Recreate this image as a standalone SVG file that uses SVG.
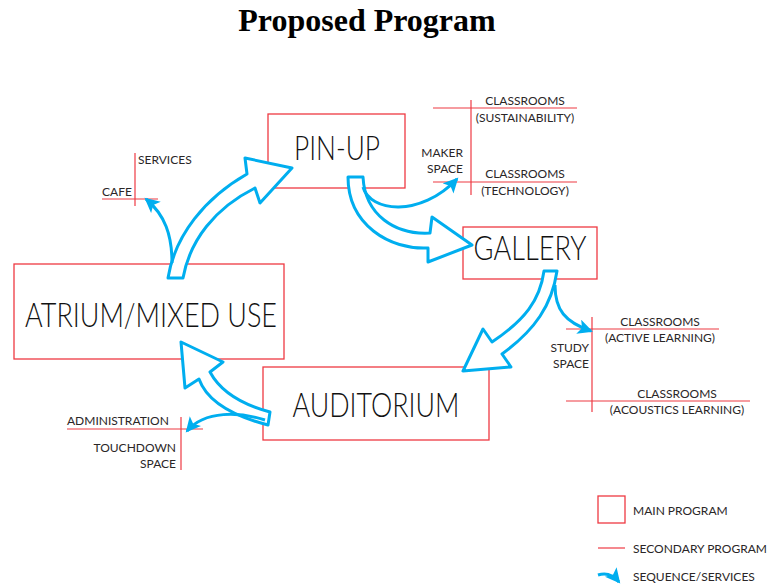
<svg xmlns="http://www.w3.org/2000/svg" width="769" height="586" viewBox="0 0 769 586">
  <style>
    .box { fill: none; stroke: #EE3A43; stroke-width: 1.3; }
    .sec { stroke: #EE3A43; stroke-width: 1.2; fill: none; }
    .main { font-family: Lato, "Open Sans", "Liberation Sans", sans-serif; font-weight: 300; fill: #111; font-size: 33px; }
    .lbl { font-family: Lato, "Open Sans", "Liberation Sans", sans-serif; font-weight: 400; fill: #2A2627; font-size: 12px; }
    .hollow { fill: #fff; stroke: #00AEEF; stroke-width: 3; stroke-linejoin: round; }
    .seq { fill: none; stroke: #00AEEF; stroke-width: 3; marker-end: url(#head); }
    .title { font-family: "Liberation Serif", "Times New Roman", serif; font-weight: bold; font-size: 32px; fill: #000; }
  </style>
  <defs>
    <marker id="head" markerUnits="userSpaceOnUse" markerWidth="18" markerHeight="16" refX="13" refY="7.5" orient="auto">
      <path d="M0,0 L15,7.5 L0,15 L3.5,7.5 Z" fill="#00AEEF"/>
    </marker>
  </defs>

  <text class="title" x="367" y="31" text-anchor="middle">Proposed Program</text>

  <!-- main program boxes -->
  <g id="pinup">
    <rect class="box" x="268" y="114" width="137" height="74"/>
    <text class="main" x="337" y="160" text-anchor="middle" textLength="86" lengthAdjust="spacingAndGlyphs">PIN-UP</text>
  </g>
  <g id="gallery">
    <rect class="box" x="463" y="227" width="134" height="52"/>
    <text class="main" x="530" y="260" text-anchor="middle" textLength="113" lengthAdjust="spacingAndGlyphs">GALLERY</text>
  </g>
  <g id="atrium">
    <rect class="box" x="14" y="264" width="270" height="95"/>
    <text class="main" x="151" y="327" text-anchor="middle" textLength="252" lengthAdjust="spacingAndGlyphs">ATRIUM/MIXED USE</text>
  </g>
  <g id="auditorium">
    <rect class="box" x="263" y="367" width="226" height="73"/>
    <text class="main" x="376" y="417" text-anchor="middle" textLength="167" lengthAdjust="spacingAndGlyphs">AUDITORIUM</text>
  </g>

  <!-- secondary program -->
  <g id="services-cafe">
    <line class="sec" x1="135" y1="153" x2="135" y2="206"/>
    <line class="sec" x1="102" y1="199" x2="158" y2="199"/>
    <text class="lbl" x="138" y="164">SERVICES</text>
    <text class="lbl" x="102" y="196">CAFE</text>
  </g>
  <g id="maker-space">
    <line class="sec" x1="471" y1="100" x2="471" y2="195"/>
    <line class="sec" x1="433" y1="108" x2="577" y2="108"/>
    <line class="sec" x1="433" y1="182" x2="577" y2="182"/>
    <text class="lbl" x="525" y="105" text-anchor="middle">CLASSROOMS</text>
    <text class="lbl" x="525" y="122" text-anchor="middle">(SUSTAINABILITY)</text>
    <text class="lbl" x="463" y="157" text-anchor="end">MAKER</text>
    <text class="lbl" x="463" y="173" text-anchor="end">SPACE</text>
    <text class="lbl" x="525" y="178" text-anchor="middle">CLASSROOMS</text>
    <text class="lbl" x="525" y="195" text-anchor="middle">(TECHNOLOGY)</text>
  </g>
  <g id="study-space">
    <line class="sec" x1="592" y1="317" x2="592" y2="412"/>
    <line class="sec" x1="566" y1="329" x2="719" y2="329"/>
    <line class="sec" x1="566" y1="401" x2="750" y2="401"/>
    <text class="lbl" x="660" y="326" text-anchor="middle">CLASSROOMS</text>
    <text class="lbl" x="660" y="342" text-anchor="middle">(ACTIVE LEARNING)</text>
    <text class="lbl" x="589" y="352" text-anchor="end">STUDY</text>
    <text class="lbl" x="589" y="368" text-anchor="end">SPACE</text>
    <text class="lbl" x="677" y="398" text-anchor="middle">CLASSROOMS</text>
    <text class="lbl" x="677" y="414" text-anchor="middle">(ACOUSTICS LEARNING)</text>
  </g>
  <g id="administration">
    <line class="sec" x1="181" y1="417" x2="181" y2="470"/>
    <line class="sec" x1="67" y1="429" x2="203" y2="429"/>
    <text class="lbl" x="67" y="425">ADMINISTRATION</text>
    <text class="lbl" x="176" y="452" text-anchor="end">TOUCHDOWN</text>
    <text class="lbl" x="176" y="468" text-anchor="end">SPACE</text>
  </g>

  <!-- sequence / services connectors -->
  <g id="connectors">
    <path class="hollow" d="M168,278 C175,235 205,198 247,174 L245,158 L292,168 L260,203 L255,188 C215,208 190,240 183,278 Z"/>
    <path class="seq" d="M172,263 C172,235 165,215 146,199"/>
    <path class="hollow" d="M348,177 C348,225 390,250 428,248 L428,262 L472,245 L432,217 L430,233 C395,235 365,215 363,177 Z"/>
    <path class="seq" d="M363,187 C370,212 420,218 457,179"/>
    <path class="hollow" d="M544,271 C540,300 525,320 492,342 L483,329 L463,371 L511,367 L502,354 C535,330 552,305 557,271 Z"/>
    <path class="seq" d="M555,285 C555,310 565,322 591,331"/>
    <path class="hollow" d="M270,412 Q225,400 210,372 L223,362 L181,342 L185,388 L199,379 Q210,410 268,425 Z"/>
    <path class="seq" d="M265,420 C240,412 205,410 187,431"/>
  </g>

  <!-- legend -->
  <g id="legend">
    <rect class="box" x="598" y="496" width="27" height="27"/>
    <text class="lbl" x="633" y="515">MAIN PROGRAM</text>
    <line class="sec" x1="598" y1="548" x2="625" y2="548"/>
    <text class="lbl" x="633" y="553">SECONDARY PROGRAM</text>
    <path class="seq" d="M598,575 Q610,571 619,582"/>
    <text class="lbl" x="633" y="581">SEQUENCE/SERVICES</text>
  </g>
</svg>
